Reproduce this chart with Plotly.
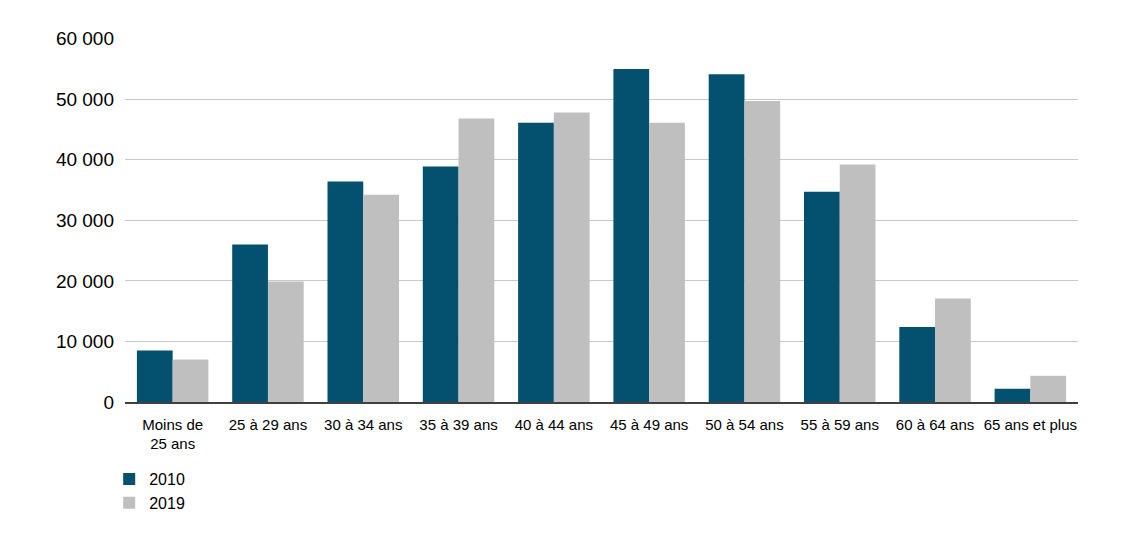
import plotly.graph_objects as go

categories = ["Moins de<br>25 ans", "25 à 29 ans", "30 à 34 ans", "35 à 39 ans", "40 à 44 ans",
              "45 à 49 ans", "50 à 54 ans", "55 à 59 ans", "60 à 64 ans", "65 ans et plus"]
values_2010 = [8500, 26000, 36400, 38900, 46100, 55000, 54100, 34700, 12400, 2200]
values_2019 = [7000, 19900, 34200, 46800, 47800, 46100, 49700, 39200, 17100, 4350]
tick_vals = [0, 10000, 20000, 30000, 40000, 50000, 60000]
tick_text = ["0", "10 000", "20 000", "30 000", "40 000", "50 000", "60 000"]

FONT = "Liberation Sans Narrow, Arial Narrow, Liberation Sans, Arial, sans-serif"

fig = go.Figure()
fig.add_trace(go.Bar(name="2010", x=categories, y=values_2010, marker_color="#03506F",
                     marker_line_width=0))
fig.add_trace(go.Bar(name="2019", x=categories, y=values_2019, marker_color="#BFBFBF",
                     marker_line_width=0))

fig.update_layout(
    width=1140, height=536,
    margin=dict(l=117, r=70, t=30, b=142),
    paper_bgcolor="white", plot_bgcolor="white",
    barmode="group", bargap=0.25, bargroupgap=0,
    font=dict(family=FONT, color="#000000"),
    showlegend=True,
    legend=dict(orientation="v", x=-0.0166, xanchor="left", y=-0.165, yanchor="top",
                font=dict(size=16, family=FONT), itemwidth=30, tracegroupgap=0),
)
fig.update_xaxes(showline=True, linecolor="#404040", linewidth=1.5, ticks="",
                 tickfont=dict(size=15, family=FONT), showgrid=False,
                 ticklabelstandoff=8)
fig.update_yaxes(range=[0, 60100], tickvals=tick_vals, ticktext=tick_text,
                 showgrid=True, gridcolor="#C8C8C8", gridwidth=1, zeroline=False,
                 showline=False, ticks="", tickfont=dict(size=19, family=FONT),
                 ticklabelstandoff=10)

fig.write_html("out.html")
